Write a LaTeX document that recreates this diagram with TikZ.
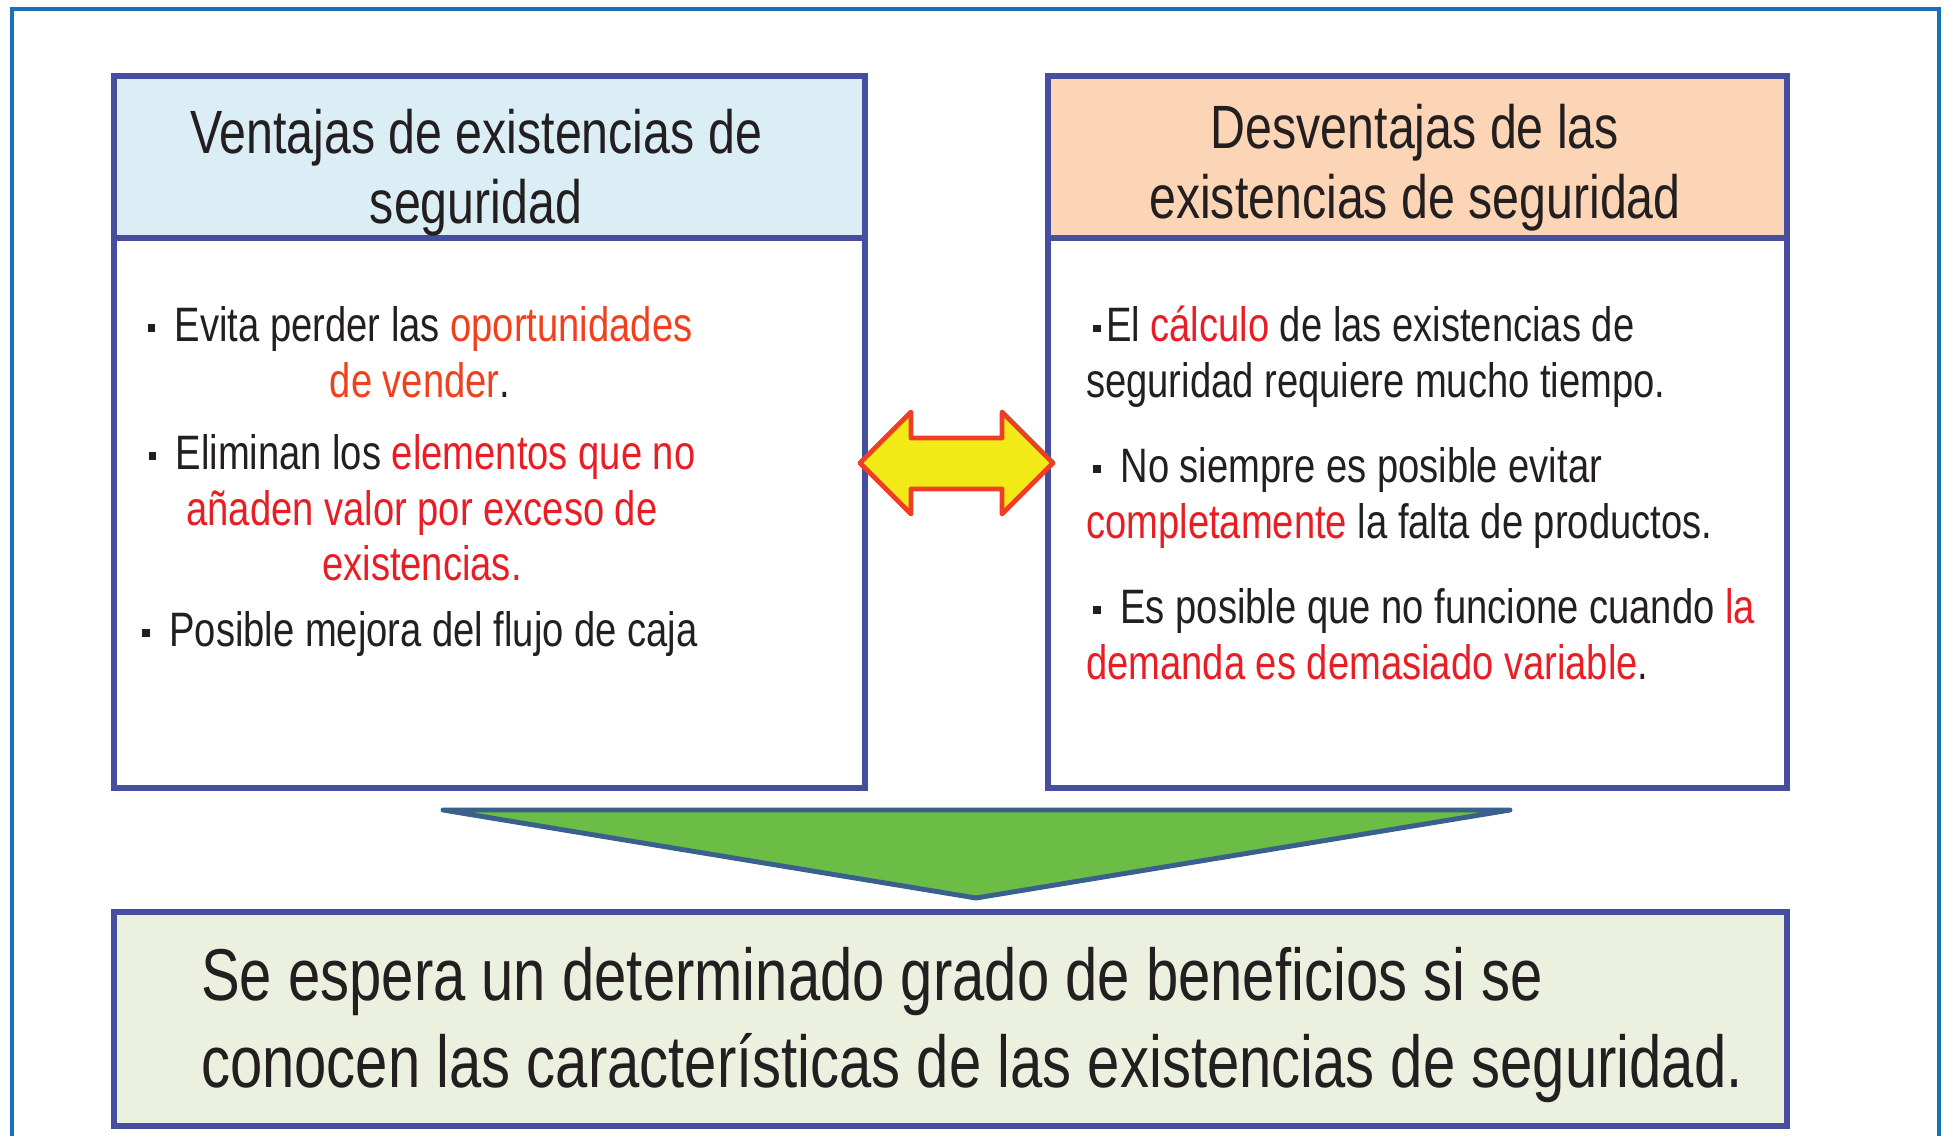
\documentclass[tikz,border=0pt]{standalone}
\usepackage{fontspec}
\setmainfont{Liberation Sans}[FakeStretch=0.79]
\definecolor{cadre}{RGB}{22,112,186}
\definecolor{bordbleu}{RGB}{70,78,160}
\definecolor{bleuclair}{RGB}{219,238,245}
\definecolor{peche}{RGB}{251,213,181}
\definecolor{vertpale}{RGB}{235,240,223}
\definecolor{vertfleche}{RGB}{107,189,69}
\definecolor{bordvert}{RGB}{58,96,140}
\definecolor{jaune}{RGB}{242,234,22}
\definecolor{rougefl}{RGB}{238,62,36}
\definecolor{rouge}{RGB}{232,30,36}
\definecolor{orangerouge}{RGB}{240,64,30}
\definecolor{noir}{RGB}{35,31,32}
\newcommand{\puce}{\rule[0.2em]{0.16em}{0.16em}}
\begin{document}
\begin{tikzpicture}[x=0.02cm,y=-0.02cm,
		boite/.style={draw=bordbleu,line width=3.1pt},
		entete/.style={font=\fontsize{34.8}{40}\selectfont,align=center,text=noir},
		corps/.style={font=\fontsize{27.5}{31.7}\selectfont,text=noir},
		conclu/.style={font=\fontsize{41.8}{49}\selectfont,align=left,text=noir}]
				\useasboundingbox (0,0) rectangle (1945,1136);
				%Cadre exterieur
				\draw[cadre,line width=2.8pt] (12,1136) -- (12,9) -- (1939,9) -- (1939,1136);
				%Boites
				\fill[bleuclair] (114,76) rectangle (865,238);
				\fill[peche] (1048,76) rectangle (1787,238);
				\fill[vertpale] (114,912) rectangle (1787,1126);
				\draw[boite] (114,76) rectangle (865,788);
				\draw[boite] (114,238) -- (865,238);
				\draw[boite] (1048,76) rectangle (1787,788);
				\draw[boite] (1048,238) -- (1787,238);
				\draw[boite] (114,912) rectangle (1787,1126);
				%Fleches
				\draw[rougefl,fill=jaune,line width=2.8pt,line join=round]
					(860,463) -- (911,412) -- (911,438) -- (1002,438) -- (1002,412) -- (1053,463)
					-- (1002,514) -- (1002,489) -- (911,489) -- (911,514) -- cycle;
				\draw[bordvert,fill=vertfleche,line width=2.8pt,line join=round,line cap=round]
					(443,810) -- (1510,810) -- (976,898) -- cycle;
				%Titres
				\node[entete] (T1) at (476,173) {Ventajas de existencias de\\ seguridad};
				\node[entete] (T2) at (1415,168) {Desventajas de las\\ existencias de seguridad};
				%Ventajas
				\node[corps,align=center] (L1) at (420,352) {\puce\hspace{.4em}Evita perder las \textcolor{orangerouge}{oportunidades}\\ \textcolor{orangerouge}{de vender}.};
				\node[corps,align=center] (L2) at (422,508) {\puce\hspace{.4em}Eliminan los \textcolor{rouge}{elementos que no}\\ \textcolor{rouge}{añaden valor por exceso de}\\ \textcolor{rouge}{existencias.}};
				\node[corps,align=center] (L3) at (420,634) {\puce\hspace{.4em}Posible mejora del flujo de caja};
				%Desventajas
				\node[corps,align=left,anchor=west] (R1) at (1080,357) {\hspace{.15em}\puce\hspace{.1em}El \textcolor{rouge}{cálculo} de las existencias de\\ seguridad requiere mucho tiempo.};
				\node[corps,align=left,anchor=west] (R2) at (1080,498) {\hspace{.15em}\puce\hspace{.4em}No siempre es posible evitar\\ \textcolor{rouge}{completamente} la falta de productos.};
				\node[corps,align=left,anchor=west] (R3) at (1080,634) {\hspace{.15em}\puce\hspace{.4em}Es posible que no funcione cuando \textcolor{rouge}{la}\\ \textcolor{rouge}{demanda es demasiado variable}.};
				%Conclusion
				\node[conclu,anchor=west] (C) at (195,1025) {Se espera un determinado grado de beneficios si se\\ conocen las características de las existencias de seguridad.};
			\end{tikzpicture}
\end{document}
